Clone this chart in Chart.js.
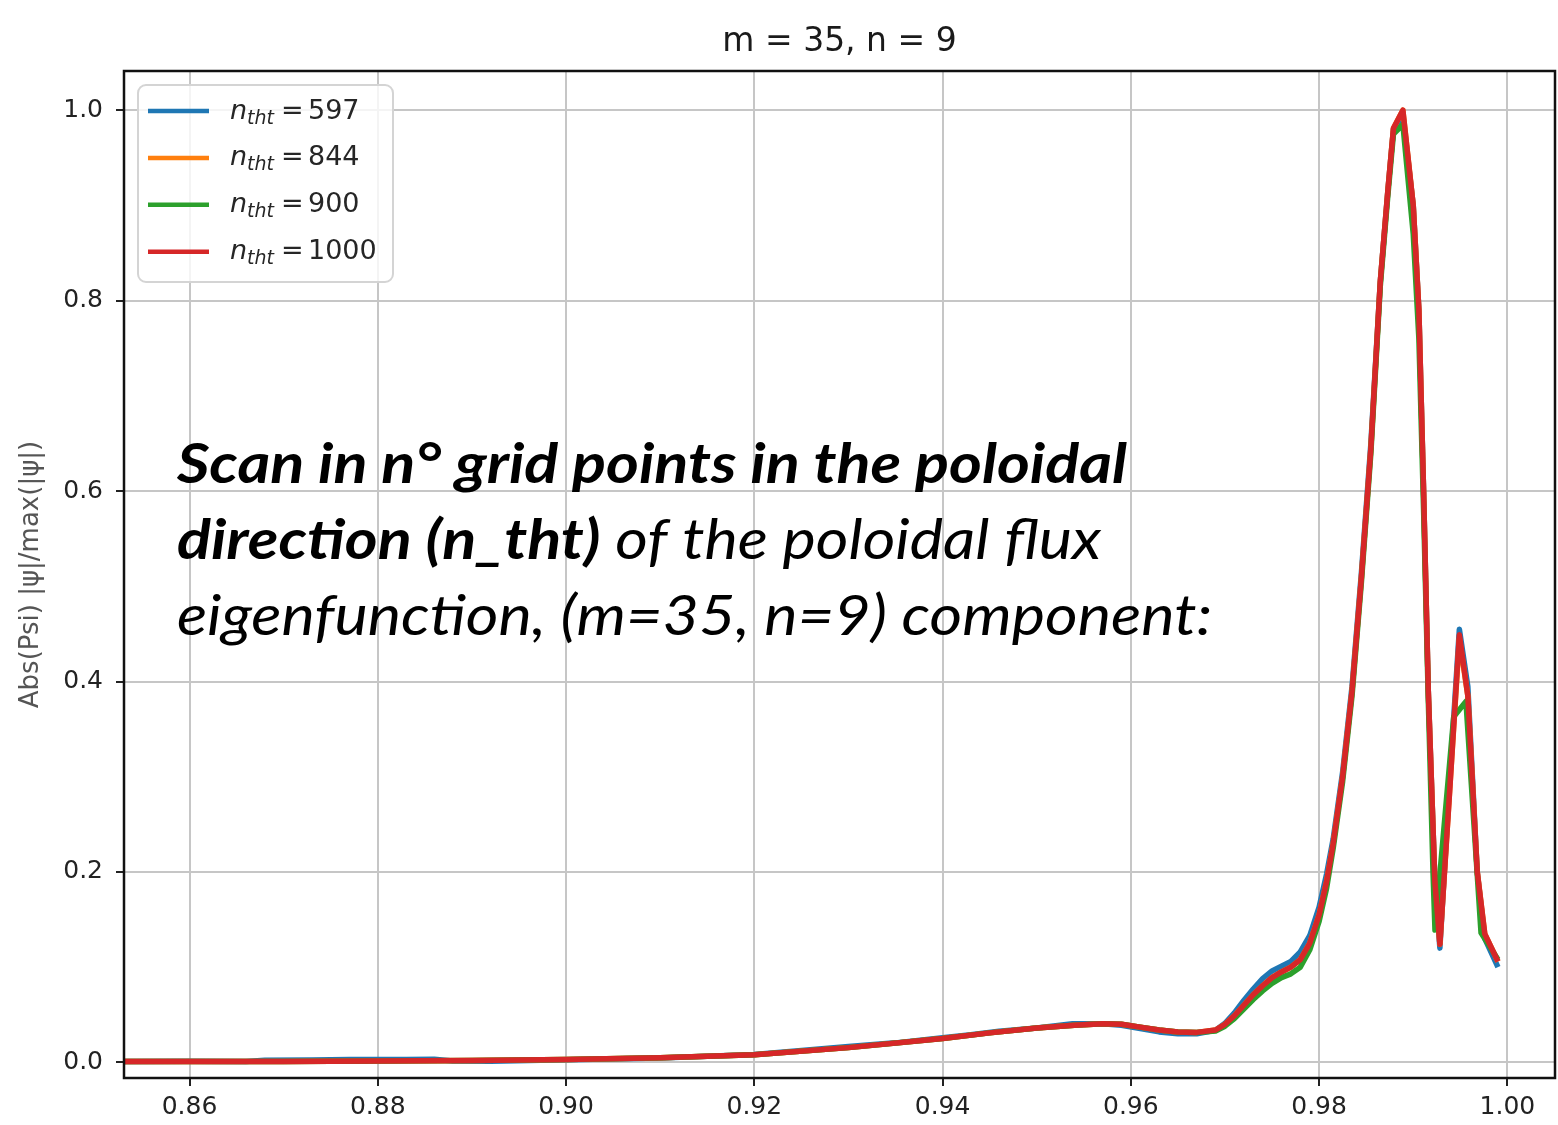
<!DOCTYPE html>
<html>
<head>
<meta charset="utf-8">
<script src="https://cdn.jsdelivr.net/npm/chart.js@4.4.0/dist/chart.umd.min.js"></script>
<style>
html,body{margin:0;padding:0;background:#fff;}
#wrap{position:relative;width:1558px;height:1125px;}
canvas{display:block;}
</style>
</head>
<body>
<div id="wrap"><canvas id="c" width="1558" height="1125" style="width:1558px;height:1125px"></canvas></div>
<script>
// ---------------- data ----------------
const titleText = 'm = 35, n = 9';
const yAxisTitle = 'Abs(Psi) |\u03c8|/max(|\u03c8|)';
const nthtValues = [597, 844, 900, 1000];
const seriesColors = ['#1f77b4', '#ff7f0e', '#2ca02c', '#d62728'];

const xTicks = [0.86, 0.88, 0.90, 0.92, 0.94, 0.96, 0.98, 1.00];
const yTicks = [0.0, 0.2, 0.4, 0.6, 0.8, 1.0];
const xMin = 0.85304, xMax = 1.00506;
const yMin = -0.0164, yMax = 1.0412;

// n_tht = 1000 (red)
const xRed = [0.853, 0.86, 0.87, 0.88, 0.89, 0.90, 0.91, 0.92, 0.93, 0.94, 0.945, 0.95, 0.954, 0.957, 0.959, 0.961, 0.963, 0.965, 0.967, 0.969, 0.970, 0.971, 0.972, 0.973, 0.974, 0.975, 0.976, 0.977, 0.978, 0.979, 0.980, 0.9808, 0.9815, 0.9825, 0.9835, 0.9845, 0.9855, 0.9865, 0.9873, 0.9879, 0.9889, 0.9900, 0.9906, 0.9911, 0.9916, 0.9923, 0.99283, 0.9939, 0.9949, 0.9958, 0.9968, 0.9976, 0.9990];
const yRed = [0.001, 0.001, 0.001, 0.0015, 0.002, 0.003, 0.0048, 0.008, 0.0155, 0.025, 0.031, 0.036, 0.039, 0.0405, 0.040, 0.037, 0.034, 0.032, 0.0315, 0.034, 0.040, 0.049, 0.060, 0.071, 0.0805, 0.089, 0.095, 0.100, 0.108, 0.125, 0.155, 0.19, 0.23, 0.30, 0.39, 0.51, 0.645, 0.82, 0.915, 0.981, 1.0, 0.90, 0.79, 0.60, 0.39, 0.19, 0.124, 0.29, 0.449, 0.385, 0.20, 0.135, 0.106];

// n_tht = 844 (orange) - lies under the red curve
const xOrange = [0.853, 0.86, 0.87, 0.88, 0.89, 0.90, 0.91, 0.92, 0.93, 0.94, 0.945, 0.95, 0.954, 0.957, 0.959, 0.961, 0.963, 0.965, 0.967, 0.969, 0.970, 0.971, 0.972, 0.973, 0.974, 0.975, 0.976, 0.977, 0.978, 0.979, 0.980, 0.9808, 0.9815, 0.9825, 0.9835, 0.9845, 0.9855, 0.9865, 0.9873, 0.9879, 0.9889, 0.9900, 0.9906, 0.9911, 0.9916, 0.9923, 0.99283, 0.9939, 0.9949, 0.9958, 0.9968, 0.9976, 0.9990];
const yOrange = [0.001, 0.001, 0.001, 0.0015, 0.002, 0.003, 0.0048, 0.008, 0.0155, 0.025, 0.031, 0.036, 0.039, 0.0405, 0.040, 0.037, 0.034, 0.032, 0.0315, 0.034, 0.040, 0.049, 0.060, 0.071, 0.0805, 0.089, 0.095, 0.100, 0.108, 0.125, 0.155, 0.19, 0.23, 0.30, 0.39, 0.51, 0.645, 0.82, 0.915, 0.981, 1.0, 0.90, 0.79, 0.60, 0.39, 0.19, 0.124, 0.29, 0.445, 0.385, 0.20, 0.135, 0.106];

// n_tht = 900 (green)
const xGreen = [0.853, 0.86, 0.87, 0.88, 0.89, 0.90, 0.91, 0.92, 0.93, 0.94, 0.945, 0.95, 0.954, 0.957, 0.959, 0.961, 0.963, 0.965, 0.967, 0.969, 0.970, 0.971, 0.972, 0.973, 0.974, 0.975, 0.976, 0.977, 0.978, 0.979, 0.980, 0.9808, 0.9815, 0.9825, 0.9835, 0.9845, 0.9855, 0.9865, 0.9873, 0.9879, 0.9889, 0.9900, 0.9906, 0.9911, 0.9916, 0.9921, 0.99231, 0.9943, 0.9956, 0.9972, 0.9990];
const yGreen = [0.001, 0.001, 0.001, 0.0015, 0.002, 0.003, 0.0048, 0.008, 0.0155, 0.025, 0.031, 0.036, 0.039, 0.0405, 0.040, 0.037, 0.034, 0.032, 0.0315, 0.033, 0.038, 0.046, 0.056, 0.066, 0.075, 0.083, 0.089, 0.093, 0.100, 0.118, 0.148, 0.183, 0.225, 0.295, 0.385, 0.505, 0.64, 0.815, 0.91, 0.975, 0.985, 0.87, 0.76, 0.58, 0.38, 0.20, 0.139, 0.363, 0.379, 0.136, 0.108];

// n_tht = 597 (blue)
const xBlue = [0.853, 0.86, 0.866, 0.868, 0.873, 0.877, 0.880, 0.883, 0.886, 0.888, 0.892, 0.90, 0.91, 0.92, 0.93, 0.935, 0.94, 0.943, 0.946, 0.95, 0.9538, 0.957, 0.959, 0.961, 0.963, 0.965, 0.967, 0.969, 0.970, 0.971, 0.972, 0.973, 0.974, 0.975, 0.976, 0.977, 0.978, 0.979, 0.980, 0.9808, 0.9815, 0.9825, 0.9835, 0.9845, 0.9855, 0.9865, 0.9873, 0.9879, 0.9889, 0.9900, 0.9906, 0.9911, 0.9916, 0.9923, 0.99283, 0.9939, 0.9949, 0.9958, 0.9968, 0.9976, 0.9990];
const yBlue = [0.001, 0.0012, 0.001, 0.0022, 0.0025, 0.003, 0.003, 0.003, 0.0032, 0.0015, 0.0012, 0.0028, 0.0046, 0.0082, 0.0168, 0.0205, 0.026, 0.029, 0.0328, 0.0362, 0.0405, 0.0405, 0.039, 0.0355, 0.032, 0.030, 0.030, 0.0338, 0.041, 0.052, 0.065, 0.077, 0.088, 0.096, 0.101, 0.106, 0.116, 0.133, 0.163, 0.198, 0.235, 0.305, 0.395, 0.515, 0.65, 0.82, 0.915, 0.98, 0.995, 0.90, 0.79, 0.60, 0.39, 0.19, 0.120, 0.30, 0.455, 0.395, 0.20, 0.13, 0.100];

// annotation text lines (bold flag per segment)
const noteLines = [
  [['Scan in n\u00b0 grid points in the poloidal', true]],
  [['direction (n_tht)', true], [' of the poloidal flux', false]],
  [['eigenfunction, (m=35, n=9) component:', false]]
];

// ---------------- chart ----------------
const toPts = (xs, ys) => xs.map((x, i) => ({x: x, y: ys[i]}));
const seriesX = [xBlue, xOrange, xGreen, xRed];
const seriesY = [yBlue, yOrange, yGreen, yRed];
const drawOrder = [3, 2, 1, 0];

const datasets = nthtValues.map((n, i) => ({
  label: 'n_tht = ' + n,
  data: toPts(seriesX[i], seriesY[i]),
  borderColor: seriesColors[i],
  backgroundColor: seriesColors[i],
  borderWidth: 5.5,
  pointRadius: 0,
  tension: 0,
  fill: false,
  borderJoinStyle: 'round',
  order: drawOrder[i]
}));

const overlay = {
  id: 'overlay',
  afterDraw(chart) {
    const ctx = chart.ctx, a = chart.chartArea;
    ctx.save();
    // frame
    ctx.strokeStyle = '#111';
    ctx.lineWidth = 2.5;
    ctx.strokeRect(a.left, a.top, a.right - a.left, a.bottom - a.top);

    // legend box
    ctx.beginPath();
    ctx.roundRect(138, 85, 255, 197, 8);
    ctx.fillStyle = 'rgba(255,255,255,0.8)';
    ctx.fill();
    ctx.strokeStyle = '#d4d4d4';
    ctx.lineWidth = 2;
    ctx.stroke();
    nthtValues.forEach((n, i) => {
      const yy = 111 + i * 46.9;
      ctx.strokeStyle = seriesColors[i];
      ctx.lineWidth = 4.5;
      ctx.beginPath();
      ctx.moveTo(148, yy);
      ctx.lineTo(209, yy);
      ctx.stroke();
      const base = yy + 7.5;
      ctx.fillStyle = '#262626';
      ctx.textBaseline = 'alphabetic';
      ctx.textAlign = 'left';
      ctx.font = 'italic 27px "DejaVu Sans"';
      ctx.fillText('n', 230, base);
      ctx.font = 'italic 19px "DejaVu Sans"';
      ctx.fillText('tht', 247, base + 5);
      ctx.font = '27px "DejaVu Sans"';
      ctx.fillText('=', 281, base);
      ctx.fillText(String(n), 308, base);
    });

    // annotation
    const fs = 56;
    const fontB = 'italic bold ' + fs + 'px Lato';
    const fontI = 'italic ' + fs + 'px Lato';
    ctx.font = fontB;
    const w1 = ctx.measureText(noteLines[0][0][0]).width;
    const sx = 950 / w1;
    const baselines = [483, 559, 635];
    ctx.fillStyle = '#000';
    noteLines.forEach((segs, li) => {
      ctx.save();
      ctx.translate(177, baselines[li]);
      ctx.scale(sx, 1);
      let x = 0;
      segs.forEach(([t, b]) => {
        ctx.font = b ? fontB : fontI;
        ctx.fillText(t, x, 0);
        x += ctx.measureText(t).width;
      });
      ctx.restore();
    });
    ctx.restore();
  }
};

new Chart(document.getElementById('c'), {
  type: 'line',
  data: {datasets: datasets},
  options: {
    responsive: false,
    animation: false,
    parsing: true,
    layout: {padding: {left: 0, right: 3, top: 0, bottom: 0}},
    plugins: {
      legend: {display: false},
      tooltip: {enabled: false},
      title: {
        display: true,
        fullSize: false,
        text: titleText,
        color: '#1a1a1a',
        font: {family: 'DejaVu Sans', size: 33, weight: 'normal', lineHeight: 1.2},
        padding: {top: 22.5, bottom: 8.9}
      }
    },
    scales: {
      x: {
        type: 'linear',
        min: xMin,
        max: xMax,
        afterBuildTicks: s => { s.ticks = xTicks.map(v => ({value: v})); },
        afterFit: s => { s.height = 47; },
        ticks: {
          autoSkip: false, maxRotation: 0, minRotation: 0, padding: 6,
          color: '#222',
          font: {family: 'DejaVu Sans', size: 25},
          callback: v => Number(v).toFixed(2)
        },
        grid: {color: '#c6c6c6', lineWidth: 2, tickLength: 8, tickColor: '#222', tickWidth: 2},
        border: {display: false}
      },
      y: {
        type: 'linear',
        min: yMin,
        max: yMax,
        afterBuildTicks: s => { s.ticks = yTicks.map(v => ({value: v})); },
        afterFit: s => { s.width = 124; },
        ticks: {
          autoSkip: false, padding: 13,
          color: '#222',
          font: {family: 'DejaVu Sans', size: 25},
          callback: v => Number(v).toFixed(1)
        },
        title: {
          display: true,
          text: yAxisTitle,
          color: '#555',
          font: {family: 'DejaVu Sans', size: 26},
          padding: {top: 16, bottom: 0}
        },
        grid: {color: '#c6c6c6', lineWidth: 2, tickLength: 8, tickColor: '#222', tickWidth: 2},
        border: {display: false}
      }
    }
  },
  plugins: [overlay]
});
</script>
</body>
</html>
